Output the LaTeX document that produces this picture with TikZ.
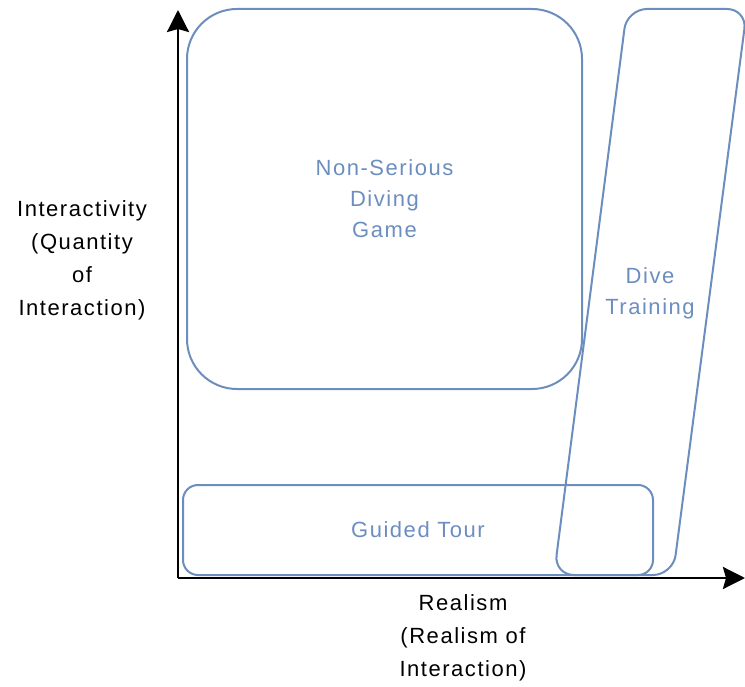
\documentclass[tikz,border=0pt]{standalone}
\usepackage{fontspec}
\setmainfont{Liberation Sans}[LetterSpace=7]
\usepackage{xcolor}
\usetikzlibrary{positioning}
\usetikzlibrary{arrows.meta}

\definecolor{boxblue}{RGB}{108,142,191}

\begin{document}
\begin{tikzpicture}[x=1pt,y=-1pt,
	region/.style={draw=boxblue,line width=2pt,rounded corners=#1,text=boxblue,align=center,
		font=\fontsize{22}{31}\selectfont},
	axis/.style={line width=2.6pt,-{Stealth[length=22pt,width=22pt,inset=3pt]}},
	axislabel/.style={align=center,font=\fontsize{22}{33}\selectfont}]
	\useasboundingbox (0,0) rectangle (745,687);

	% axes
	\coordinate (origin) at (178,578);
	\coordinate (ytip) at (178,10);
	\coordinate (xtip) at (745,578);
	\draw[axis] (origin) -- (ytip);
	\draw[axis] (origin) -- (xtip);

	% regions
	\node[region=50pt,minimum width=395pt,minimum height=380pt] (game) at (384.5,199) {Non-Serious\\Diving\\Game};
	\node[region=15pt,minimum width=470pt,minimum height=90pt] (tour) at (418,530) {Guided Tour};
	\draw[region=20pt] (687,9) -- (747,9) -- (673,575) -- (554,575) -- (627,9) -- cycle;
	\node[text=boxblue,align=center,font=\fontsize{22}{31}\selectfont] (training) at (650,293) {Dive\\Training};

	% labels
	\node[axislabel] (interactivity) at (82,260) {Interactivity\\(Quantity\\of\\Interaction)};
	\node[axislabel] (realism) at (463,638) {Realism\\(Realism of\\Interaction)};
\end{tikzpicture}
\end{document}
